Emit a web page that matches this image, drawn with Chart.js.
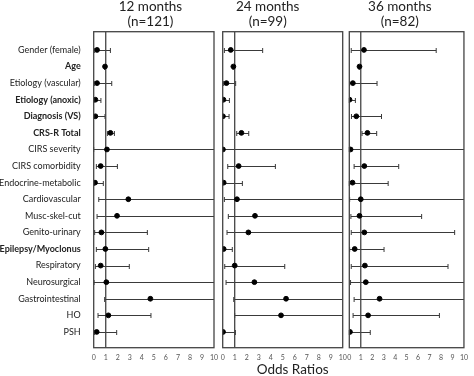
<!DOCTYPE html>
<html>
<head>
<meta charset="utf-8">
<script src="https://cdn.jsdelivr.net/npm/chart.js@4.4.1/dist/chart.umd.min.js"></script>
<style>
  html, body { margin: 0; padding: 0; background: #fff; }
  #wrap { position: relative; width: 474px; height: 376px; }
  #wrap canvas { position: absolute; left: 0; top: 0; }
</style>
</head>
<body>
<div id="wrap">
  <canvas id="p12" width="474" height="376"></canvas>
  <canvas id="p24" width="474" height="376"></canvas>
  <canvas id="p36" width="474" height="376"></canvas>
</div>
<script>
// predictors, top to bottom
const categories = [
  "Gender (female)", "Age", "Etiology (vascular)", "Etiology (anoxic)",
  "Diagnosis (VS)", "CRS-R Total", "CIRS severity", "CIRS comorbidity",
  "Endocrine-metabolic", "Cardiovascular", "Musc-skel-cut", "Genito-urinary",
  "Epilepsy/Myoclonus", "Respiratory", "Neurosurgical", "Gastrointestinal",
  "HO", "PSH",
];
const boldLabels = ["Age", "Etiology (anoxic)", "Diagnosis (VS)", "CRS-R Total", "Epilepsy/Myoclonus"];
const xTicks = [0, 1, 2, 3, 4, 5, 6, 7, 8, 9, 10];

// odds ratios + 95% CI (null upper = runs off the scale)
const or12 = [0.28, 0.94, 0.28, 0.14, 0.14, 1.39, 1.1, 0.58, 0.11, 2.88, 1.94, 0.64, 0.97, 0.58, 1.05, 4.71, 1.22, 0.25];
const lo12 = [0.08, 0.9, 0.08, 0.03, 0.03, 1.14, 0.0, 0.22, 0.05, 0.42, 0.28, 0.08, 0.22, 0.14, 0.03, 0.91, 0.36, 0.06];
const hi12 = [1.39, 0.98, 1.5, 0.6, 0.94, 1.72, null, 1.97, 0.8, null, null, 4.46, 4.57, 2.96, null, null, 4.76, 1.91];

const or24 = [0.67, 0.89, 0.31, 0.06, 0.02, 1.56, 0.02, 1.33, 0.08, 1.19, 2.69, 2.14, 0.08, 1.0, 2.64, 5.28, 4.86, 0.03];
const lo24 = [0.14, 0.85, 0.08, 0.0, 0.0, 1.17, 0.0, 0.42, 0.0, 0.14, 0.47, 0.36, 0.0, 0.17, 0.28, 0.92, 1.0, 0.0];
const hi24 = [3.33, 0.93, 1.08, 0.56, 0.53, 2.17, null, 4.39, 1.64, null, null, null, 0.8, 5.17, null, null, null, 1.06];

const or36 = [1.28, 0.89, 0.31, 0.02, 0.61, 1.58, 0.11, 1.31, 0.28, 1.0, 0.89, 1.31, 0.47, 1.36, 1.44, 2.64, 1.64, 0.06];
const lo36 = [0.17, 0.85, 0.03, 0.0, 0.19, 1.11, 0.0, 0.42, 0.0, 0.03, 0.14, 0.17, 0.03, 0.17, 0.11, 0.42, 0.33, 0.0];
const hi36 = [7.58, 0.93, 2.42, 0.53, 2.81, 2.39, null, 4.31, 3.39, null, 6.31, 9.19, 3.03, 8.61, null, null, 7.86, 1.83];

const FONT = "Lato, 'Open Sans', sans-serif";
const yMin = -1.1, yMax = 17.95;

// error bars, frame and titles drawn through the scales
const forestPlugin = {
  id: "forest",
  beforeDatasetsDraw(chart) {
    const { ctx, chartArea: a, scales: { x, y } } = chart;
    const o = chart.options.plugins.forest;
    ctx.save();
    ctx.strokeStyle = "#3a3a3a";
    ctx.lineWidth = 1;
    o.lo.forEach((l, i) => {
      const py = Math.round(y.getPixelForValue(i)) + 0.5;
      const x1 = x.getPixelForValue(l);
      const x2 = o.hi[i] == null ? a.right : x.getPixelForValue(o.hi[i]);
      ctx.beginPath();
      ctx.moveTo(x1, py);
      ctx.lineTo(x2, py);
      ctx.moveTo(x1, py - 2.5);
      ctx.lineTo(x1, py + 2.5);
      if (o.hi[i] != null) {
        ctx.moveTo(x2, py - 2.5);
        ctx.lineTo(x2, py + 2.5);
      }
      ctx.stroke();
    });
    ctx.restore();
  },
  afterDraw(chart) {
    const { ctx, chartArea: a } = chart;
    const o = chart.options.plugins.forest;
    ctx.save();
    ctx.strokeStyle = "#444";
    ctx.lineWidth = 1.3;
    ctx.strokeRect(a.left, a.top, a.right - a.left, a.bottom - a.top);
    ctx.fillStyle = "#222";
    ctx.textAlign = "center";
    ctx.textBaseline = "middle";
    ctx.font = "13.5px " + FONT;
    const cx = (a.left + a.right) / 2 + o.titleShift;
    ctx.fillText(o.title[0], cx, 6.5);
    ctx.fillText(o.title[1], cx, 22);
    if (o.axisTitle) {
      ctx.font = "13.5px " + FONT;
      ctx.fillText(o.axisTitle, (a.left + a.right) / 2 + 10, 370);
    }
    ctx.restore();
  },
};

function makePanel(id, title, or, lo, hi, opts) {
  const ctx = document.getElementById(id).getContext("2d");
  return new Chart(ctx, {
    type: "scatter",
    data: {
      datasets: [
        {
          type: "line",
          data: [{ x: 1, y: yMin }, { x: 1, y: yMax }],
          borderColor: "#444",
          borderWidth: 1.3,
          pointRadius: 0,
          order: 2,
        },
        {
          data: or.map((v, i) => ({ x: v, y: i })),
          backgroundColor: "#000",
          borderColor: "#000",
          pointRadius: 2.4,
          order: 1,
        },
      ],
    },
    plugins: [forestPlugin],
    options: {
      responsive: false,
      animation: false,
      layout: { padding: { left: opts.left, right: opts.right, top: 31.7, bottom: 0 } },
      plugins: {
        legend: { display: false },
        tooltip: { enabled: false },
        forest: { lo: lo, hi: hi, title: title, titleShift: opts.titleShift, axisTitle: opts.axisTitle },
      },
      scales: {
        x: {
          type: "linear",
          min: 0,
          max: 10,
          grid: { display: false, drawTicks: false },
          border: { display: false },
          afterBuildTicks: (s) => { s.ticks = xTicks.map((v) => ({ value: v })); },
          afterFit: (s) => { s.height = 28.3; },
          ticks: {
            padding: 6,
            maxRotation: 0,
            autoSkip: false,
            color: "#555",
            font: { family: FONT, size: 7 },
          },
        },
        y: {
          type: "linear",
          reverse: true,
          min: yMin,
          max: yMax,
          display: opts.showLabels,
          grid: { display: false },
          border: { display: false },
          afterBuildTicks: (s) => { s.ticks = categories.map((c, i) => ({ value: i })); },
          afterFit: (s) => { s.width = opts.showLabels ? 93.7 : 0; },
          ticks: {
            padding: 5,
            autoSkip: false,
            color: "#222",
            callback: (v) => categories[v],
            font: (c) => ({
              family: FONT,
              size: 9,
              weight: boldLabels.includes(categories[c.index]) ? "bold" : "normal",
            }),
          },
        },
      },
    },
  });
}

makePanel("p12", ["12 months", "(n=121)"], or12, lo12, hi12,
  { left: 0, right: 260, showLabels: true, titleShift: -3.4 });
makePanel("p24", ["24 months", "(n=99)"], or24, lo24, hi24,
  { left: 222.7, right: 131.3, showLabels: false, titleShift: -15, axisTitle: "Odds Ratios" });
makePanel("p36", ["36 months", "(n=82)"], or36, lo36, hi36,
  { left: 349.3, right: 4.7, showLabels: false, titleShift: -6.8 });
</script>
</body>
</html>
